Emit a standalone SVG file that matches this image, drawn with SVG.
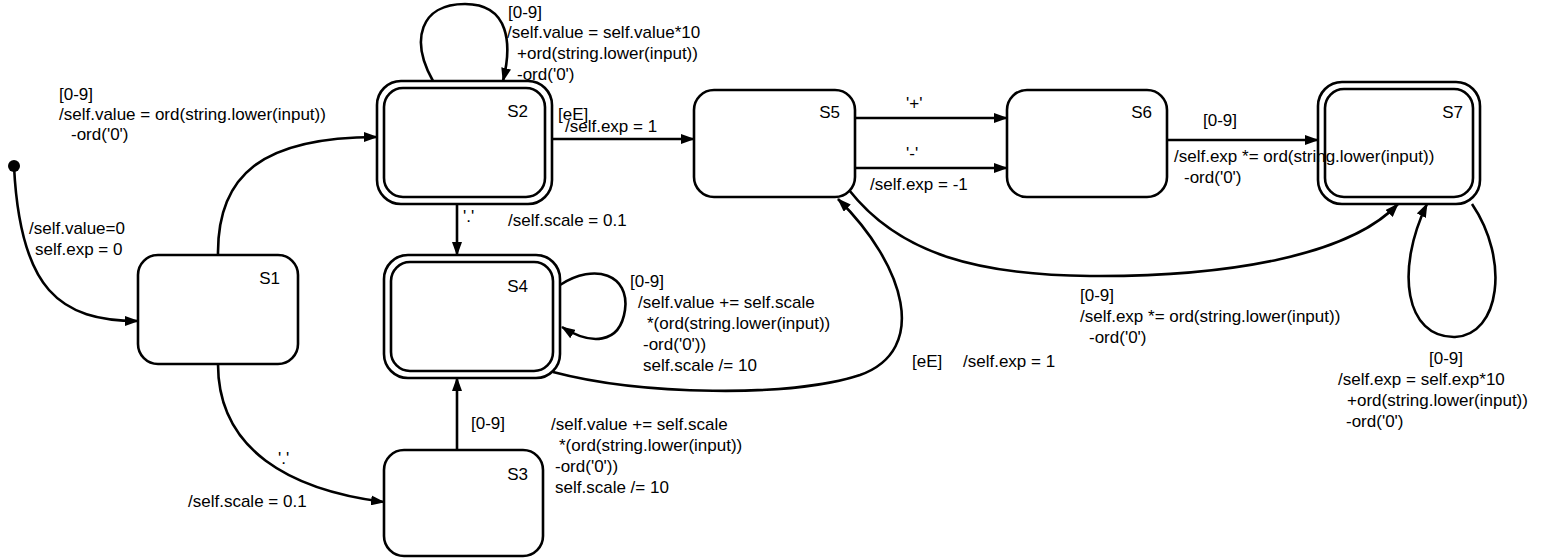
<svg xmlns="http://www.w3.org/2000/svg" width="1550" height="558" viewBox="0 0 1550 558">
<style>
  .node{fill:#fff;stroke:#000;stroke-width:2.6}
  .conn{fill:none;stroke:#000;stroke-width:2.6;marker-end:url(#arrow)}
  text{font-family:"Liberation Sans",Arial,Helvetica,sans-serif;font-size:17px;fill:#000}
  .nl{text-anchor:end}
</style>
<defs>
  <marker id="arrow" markerUnits="userSpaceOnUse" markerWidth="14" markerHeight="10" viewBox="0 0 14 10" refX="13" refY="5" orient="auto">
    <path d="M0,0 L14,5 L0,10 z" fill="#000"/>
  </marker>
</defs>
<rect width="1550" height="558" fill="#fff"/>

<g id="initial"><circle cx="14" cy="166" r="6" fill="#000"/></g>
<g id="S1"><rect class="node" x="138" y="255" width="160" height="109" rx="20"/><text class="nl" x="280" y="284">S1</text></g>
<g id="S2"><rect class="node" x="377" y="81" width="175" height="123" rx="24"/><rect class="node" x="384" y="88" width="161" height="109" rx="19"/><text class="nl" x="528" y="117">S2</text></g>
<g id="S4"><rect class="node" x="384" y="255" width="176" height="123" rx="24"/><rect class="node" x="391" y="262" width="162" height="109" rx="19"/><text class="nl" x="528" y="292">S4</text></g>
<g id="S3"><rect class="node" x="384" y="450" width="159" height="106" rx="20"/><text class="nl" x="528" y="480">S3</text></g>
<g id="S5"><rect class="node" x="694" y="90" width="161" height="107" rx="20"/><text class="nl" x="840" y="118">S5</text></g>
<g id="S6"><rect class="node" x="1007" y="90" width="160" height="107" rx="20"/><text class="nl" x="1152" y="118">S6</text></g>
<g id="S7"><rect class="node" x="1318" y="82" width="162" height="122" rx="24"/><rect class="node" x="1325" y="89" width="148" height="108" rx="19"/><text class="nl" x="1463" y="118">S7</text></g>

<g id="connectors">
  <path class="conn" d="M14 166 C20 290 60 321 138 321"/>
  <path class="conn" d="M218 255 C217 175 262 137 377 137"/>
  <path class="conn" d="M218 364 C218 450 290 490 384 502"/>
  <path class="conn" d="M433 81 C410 40 420 4 465 4 C510 4 512 45 503 81"/>
  <path class="conn" d="M552 139 L694 139"/>
  <path class="conn" d="M457 204 L457 255"/>
  <path class="conn" d="M457 450 L457 378"/>
  <path class="conn" d="M560 285 C595 262 630 275 625 310 C620 345 590 345 562 327"/>
  <path class="conn" d="M553 372 C640 395 790 398 860 375 C930 350 905 265 838 199"/>
  <path class="conn" d="M855 118 L1007 118"/>
  <path class="conn" d="M855 168 L1007 168"/>
  <path class="conn" d="M1167 140 L1318 140"/>
  <path class="conn" d="M849 190 C900 255 980 275 1090 276 C1230 277 1350 255 1398 204"/>
  <path class="conn" d="M1472 204 C1510 260 1500 335 1455 337 C1405 338 1395 270 1427 204"/>
</g>

<g id="labels">
  <text x="29" y="234">/self.value=0</text>
  <text x="35" y="255">self.exp = 0</text>

  <text x="59" y="100">[0-9]</text>
  <text x="59" y="120">/self.value = ord(string.lower(input))</text>
  <text x="71" y="140">-ord('0')</text>

  <text x="508" y="18">[0-9]</text>
  <text x="507" y="38">/self.value = self.value*10</text>
  <text x="517" y="59">+ord(string.lower(input))</text>
  <text x="517" y="80">-ord('0')</text>

  <text x="558" y="120">[eE]</text>
  <text x="565" y="132">/self.exp = 1</text>

  <text x="463" y="222">'.'</text>
  <text x="508" y="226">/self.scale = 0.1</text>

  <text x="630" y="287">[0-9]</text>
  <text x="638" y="308">/self.value += self.scale</text>
  <text x="647" y="329">*(ord(string.lower(input))</text>
  <text x="643" y="350">-ord('0'))</text>
  <text x="643" y="371">self.scale /= 10</text>

  <text x="912" y="367">[eE]</text>
  <text x="963" y="367">/self.exp = 1</text>

  <text x="278" y="464">'.'</text>
  <text x="188" y="507">/self.scale = 0.1</text>

  <text x="471" y="429">[0-9]</text>
  <text x="551" y="430">/self.value += self.scale</text>
  <text x="559" y="451">*(ord(string.lower(input))</text>
  <text x="555" y="472">-ord('0'))</text>
  <text x="555" y="493">self.scale /= 10</text>

  <text x="906" y="109">'+'</text>
  <text x="906" y="159">'-'</text>
  <text x="870" y="190">/self.exp = -1</text>

  <text x="1203" y="126">[0-9]</text>
  <text x="1174" y="162">/self.exp *= ord(string.lower(input))</text>
  <text x="1184" y="183">-ord('0')</text>

  <text x="1080" y="301">[0-9]</text>
  <text x="1080" y="322">/self.exp *= ord(string.lower(input))</text>
  <text x="1089" y="343">-ord('0')</text>

  <text x="1429" y="364">[0-9]</text>
  <text x="1338" y="385">/self.exp = self.exp*10</text>
  <text x="1347" y="406">+ord(string.lower(input))</text>
  <text x="1346" y="427">-ord('0')</text>
</g>
</svg>
